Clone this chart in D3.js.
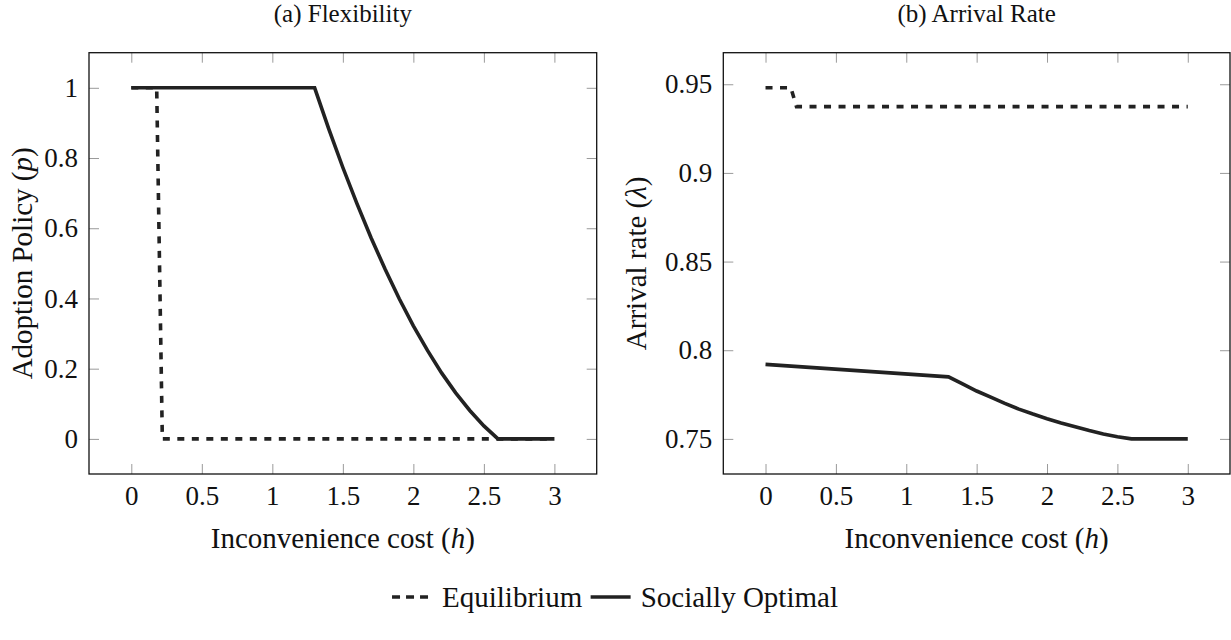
<!DOCTYPE html>
<html>
<head>
<meta charset="utf-8">
<script src="https://cdn.jsdelivr.net/npm/d3@7"></script>
<style>
  html, body { margin: 0; padding: 0; background: #fff; }
  svg, svg text { font-family: "Liberation Serif", "Times New Roman", Tinos, "DejaVu Serif", serif; }
</style>
</head>
<body>
<svg id="chart" width="1231" height="640"></svg>
<script>
// data
const hEq = [0, 0.18, 0.22, 3]
const pEq = [1, 1, 0, 0]
const lamEq = [0.948, 0.948, 0.9374, 0.9374]

const hSO = [0, 1.3, 1.4, 1.5, 1.6, 1.7, 1.8, 1.9, 2.0, 2.1, 2.2, 2.3, 2.4, 2.5, 2.6, 3]
const pSO = [1, 1, 0.883, 0.773, 0.670, 0.573, 0.483, 0.399, 0.322, 0.252, 0.188, 0.131, 0.081, 0.037, 0, 0]
const lamSO = [0.792, 0.785, 0.781, 0.777, 0.7735, 0.770, 0.7668, 0.764, 0.7614, 0.759, 0.7568, 0.7547, 0.7528, 0.7512, 0.75, 0.75]

const xTicks = [0, 0.5, 1, 1.5, 2, 2.5, 3]
const pTicks = [0, 0.2, 0.4, 0.6, 0.8, 1]
const lamTicks = [0.75, 0.8, 0.85, 0.9, 0.95]

const seriesNames = ["Equilibrium", "Socially Optimal"]

const FONT = "'Liberation Serif', 'Times New Roman', Tinos, 'DejaVu Serif', serif"
const svg = d3.select("#chart").attr("font-family", FONT)
const INK = "#222"
const TICK = "#9a9a9a"
const TICK_FS = 27
const LABEL_FS = 29

function panel({ left, right, top, bottom, yDomain, yTicks, yEq, ySO, title, yLabel, yLabelX }) {
  const x = d3.scaleLinear().domain([-0.3, 3.3]).range([left, right])
  const y = d3.scaleLinear().domain(yDomain).range([bottom, top])
  const g = svg.append("g")

  // inward ticks on all four sides (pgfplots style)
  const tickLen = 10
  const axB = g.append("g").attr("transform", `translate(0,${bottom})`)
    .call(d3.axisBottom(x).tickValues(xTicks).tickSizeInner(-tickLen).tickSizeOuter(0).tickPadding(12).tickFormat(d3.format("")))
  const axT = g.append("g").attr("transform", `translate(0,${top})`)
    .call(d3.axisTop(x).tickValues(xTicks).tickSizeInner(-tickLen).tickSizeOuter(0).tickFormat(""))
  const axL = g.append("g").attr("transform", `translate(${left},0)`)
    .call(d3.axisLeft(y).tickValues(yTicks).tickSizeInner(-tickLen).tickSizeOuter(0).tickPadding(11).tickFormat(d3.format("")))
  const axR = g.append("g").attr("transform", `translate(${right},0)`)
    .call(d3.axisRight(y).tickValues(yTicks).tickSizeInner(-tickLen).tickSizeOuter(0).tickFormat(""))
  ;[axB, axT, axL, axR].forEach(a => {
    a.attr("font-family", FONT).attr("font-size", TICK_FS)
    a.select(".domain").remove()
    a.selectAll(".tick line").attr("stroke", TICK).attr("stroke-width", 1)
    a.selectAll(".tick text").attr("fill", "#111").attr("font-family", FONT)
  })

  // frame
  g.append("rect")
    .attr("x", left).attr("y", top)
    .attr("width", right - left).attr("height", bottom - top)
    .attr("fill", "none").attr("stroke", "#111").attr("stroke-width", 1.3)

  const line = d3.line().x(d => x(d[0])).y(d => y(d[1]))
  g.append("path")
    .datum(d3.zip(hEq, yEq))
    .attr("d", line)
    .attr("fill", "none").attr("stroke", INK).attr("stroke-width", 3.6)
    .attr("stroke-dasharray", "7,7.5")
  g.append("path")
    .datum(d3.zip(hSO, ySO))
    .attr("d", line)
    .attr("fill", "none").attr("stroke", INK).attr("stroke-width", 3.6)

  const cx = (x(0) + x(3)) / 2
  g.append("text")
    .attr("x", cx).attr("y", 22)
    .attr("text-anchor", "middle").attr("font-size", 25).attr("fill", "#111")
    .attr("font-family", FONT)
    .text(title)

  const xl = g.append("text")
    .attr("x", cx).attr("y", 548)
    .attr("text-anchor", "middle").attr("font-size", LABEL_FS).attr("fill", "#111")
    .attr("font-family", FONT)
  xl.append("tspan").text("Inconvenience cost (")
  xl.append("tspan").attr("font-style", "italic").text("h")
  xl.append("tspan").text(")")

  const yl = g.append("text")
    .attr("transform", `translate(${yLabelX},${(top + bottom) / 2}) rotate(-90)`)
    .attr("text-anchor", "middle").attr("font-size", LABEL_FS).attr("fill", "#111")
    .attr("font-family", FONT)
  yl.append("tspan").text(yLabel[0])
  yl.append("tspan").attr("font-style", "italic").text(yLabel[1])
  yl.append("tspan").text(")")
}

panel({
  left: 89, right: 596.7, top: 52.7, bottom: 474,
  yDomain: [-0.1, 1.1], yTicks: pTicks, yEq: pEq, ySO: pSO,
  title: "(a) Flexibility", yLabel: ["Adoption Policy (", "p"], yLabelX: 32
})
panel({
  left: 723.3, right: 1230, top: 52.7, bottom: 474,
  yDomain: [0.7302, 0.9678], yTicks: lamTicks, yEq: lamEq, ySO: lamSO,
  title: "(b) Arrival Rate", yLabel: ["Arrival rate (", "λ"], yLabelX: 646
})

// legend, centred under both panels
const leg = svg.append("g")
const legY = 607
let lx = 0
const items = []
seriesNames.forEach((name, i) => {
  const it = leg.append("g")
  it.append("line")
    .attr("x1", 0).attr("x2", 40).attr("y1", -10).attr("y2", -10)
    .attr("stroke", INK).attr("stroke-width", 3.6)
    .attr("stroke-dasharray", i === 0 ? "8,6" : null)
  it.append("text").attr("x", 50).attr("y", 0)
    .attr("font-size", LABEL_FS).attr("fill", "#111").attr("font-family", FONT)
    .text(name)
  items.push(it)
})
items.forEach(it => {
  it.attr("transform", `translate(${lx},0)`)
  lx += it.node().getBBox().width + 8
})
const legW = lx - 8
leg.attr("transform", `translate(${615 - legW / 2},${legY})`)
</script>
</body>
</html>
